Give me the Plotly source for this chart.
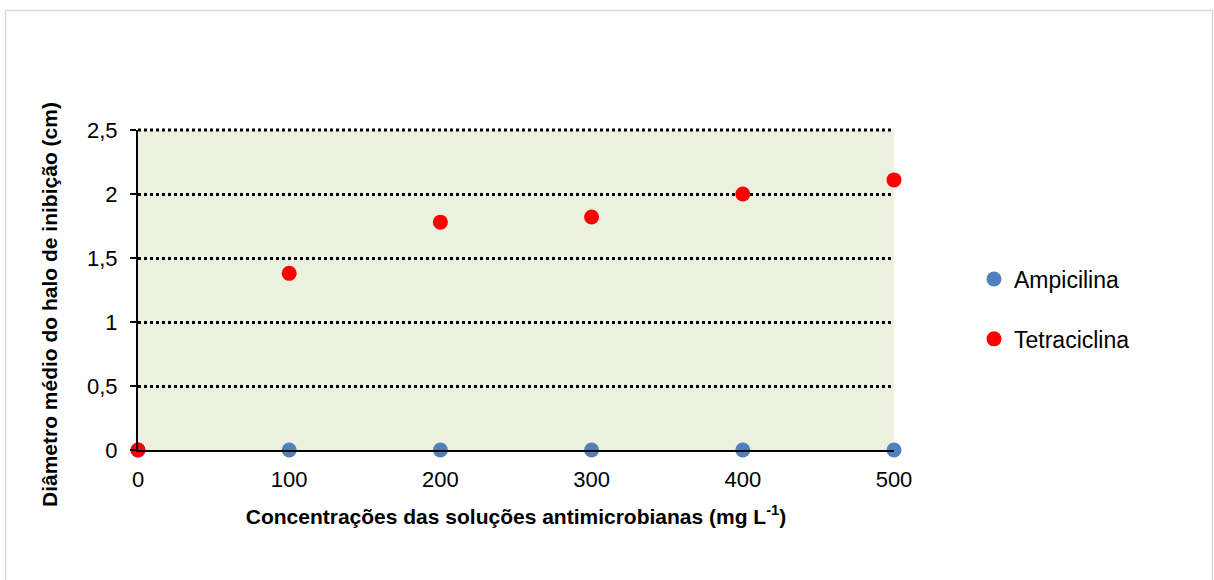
import plotly.graph_objects as go

conc = [0, 100, 200, 300, 400, 500]
ampicilina = [0, 0, 0, 0, 0, 0]
tetraciclina = [0, 1.38, 1.78, 1.82, 2.0, 2.11]
y_ticks = [0, 0.5, 1, 1.5, 2, 2.5]
x_ticks = [0, 100, 200, 300, 400, 500]

W, H = 1214, 580
L, R, T, B = 138, 320, 130, 130
pw, ph = W - L - R, H - T - B

fig = go.Figure()
fig.add_trace(go.Scatter(x=conc, y=ampicilina, mode="markers", name="Ampicilina",
                         legendgroup="a",
                         marker=dict(color="#4F81BD", size=15), cliponaxis=False))
fig.add_trace(go.Scatter(x=conc, y=tetraciclina, mode="markers", name="Tetraciclina",
                         legendgroup="b",
                         marker=dict(color="#FF0000", size=15), cliponaxis=False))

font = "Liberation Sans, Arial, sans-serif"
fig.update_layout(
    width=W, height=H,
    margin=dict(l=L, r=R, t=T, b=B),
    paper_bgcolor="white", plot_bgcolor="#EBF1DE",
    separators=", ",
    font=dict(family=font, color="black", size=22),
    showlegend=True,
    legend=dict(x=(974 - L) / pw, y=(450 - 309) / ph, xanchor="left", yanchor="middle",
                font=dict(size=23, family=font), tracegroupgap=27,
                itemwidth=30, bgcolor="rgba(0,0,0,0)"),
    xaxis=dict(range=[0, 500], tickvals=x_ticks, showgrid=False, zeroline=False,
               showline=True, linecolor="black", linewidth=2, ticks="",
               tickfont=dict(size=22), ticklabelstandoff=9,
               title=dict(text="<b>Concentrações das soluções antimicrobianas (mg L<sup>-1</sup>)</b>",
                          font=dict(size=21), standoff=18)),
    yaxis=dict(range=[0, 2.5], tickvals=y_ticks, showgrid=True, gridcolor="black",
               griddash="dot", gridwidth=3, zeroline=False,
               showline=True, linecolor="black", linewidth=2, ticks="outside",
               ticklen=6, tickwidth=2, tickcolor="black", tickfont=dict(size=22),
               ticklabelstandoff=8),
)

# y-axis title (placed slightly below plot centre, as in the reference)
fig.add_annotation(text="<b>Diâmetro médio do halo de inibição (cm)</b>",
                   xref="paper", yref="paper", x=(49 - L) / pw, y=(450 - 305) / ph,
                   xanchor="center", yanchor="middle", textangle=-90,
                   showarrow=False, font=dict(size=21, family=font, color="black"))

# top gridline (at range edge, not drawn by the axis)
fig.add_shape(type="line", xref="x", yref="y domain", x0=x_ticks[0], x1=x_ticks[-1],
              y0=1, y1=1,
              line=dict(color="black", width=3, dash="dot"), layer="below")

# outer chart border
fig.add_shape(type="rect", xref="paper", yref="paper",
              x0=(5.5 - L) / pw, x1=(1212.5 - L) / pw,
              y0=(450 - 600) / ph, y1=(450 - 10.5) / ph,
              line=dict(color="#D9D9D9", width=1.5), layer="below")

fig.write_html("out.html")
